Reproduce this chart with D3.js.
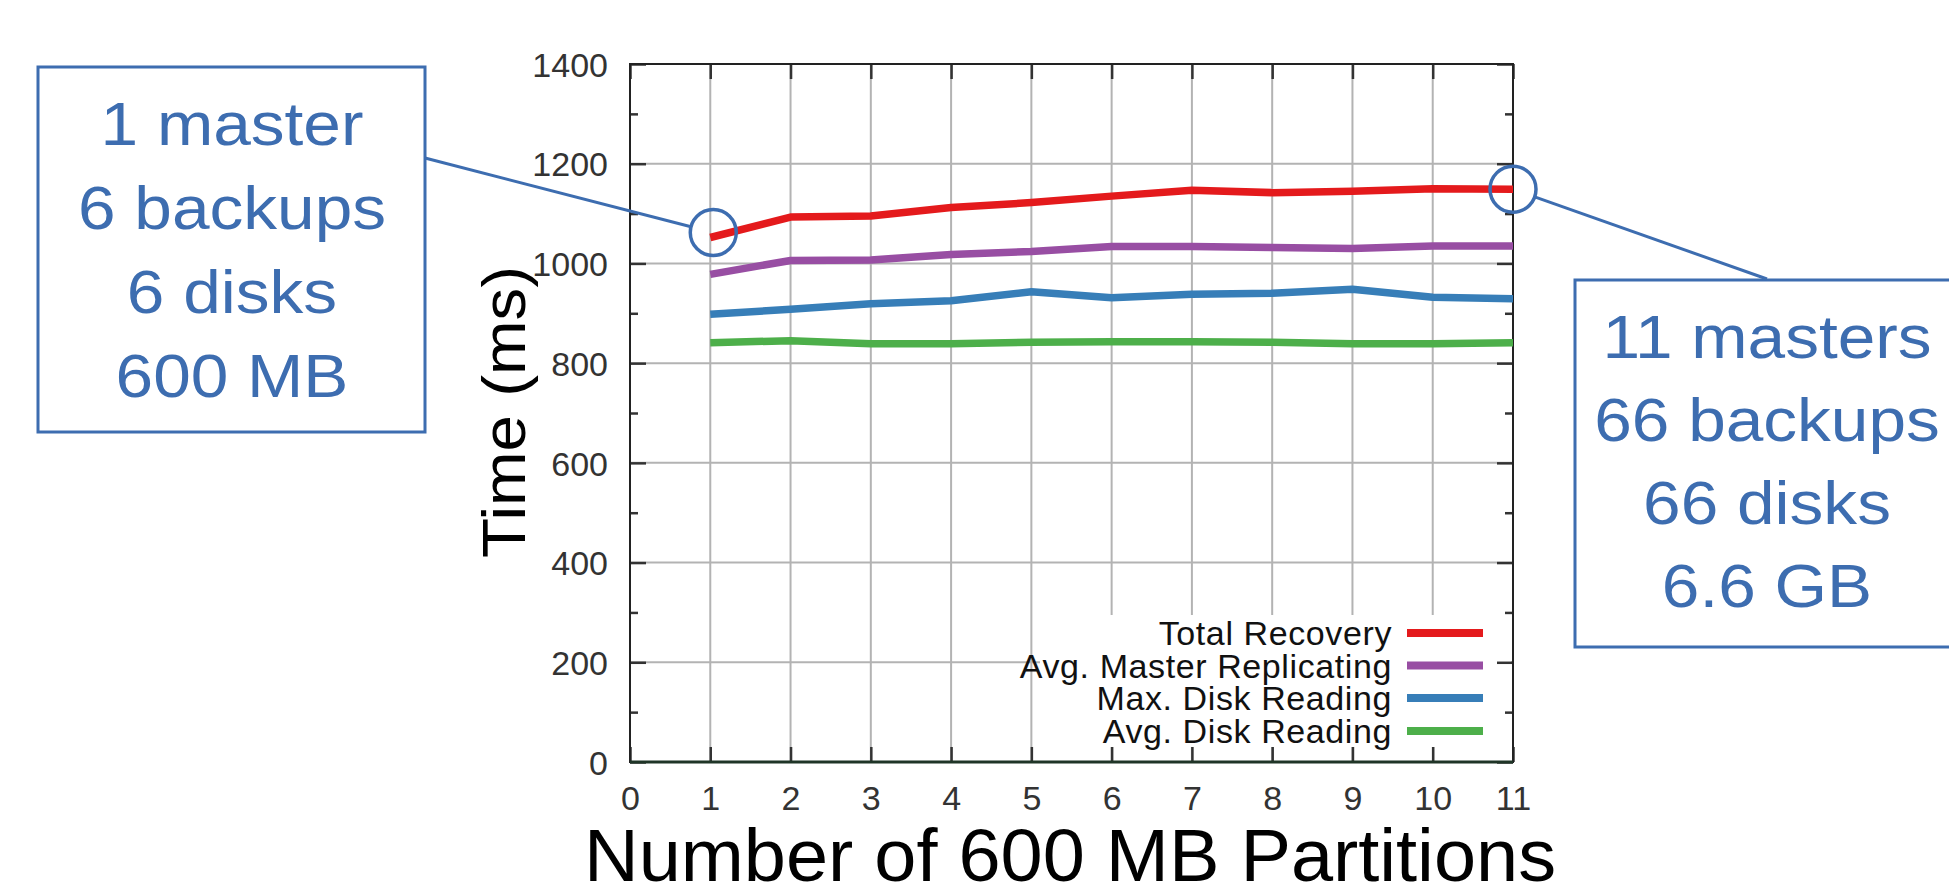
<!DOCTYPE html>
<html>
<head>
<meta charset="utf-8">
<script src="https://cdn.jsdelivr.net/npm/d3@7"></script>
<style>
  html, body { margin: 0; padding: 0; background: #fff; }
  svg { display: block; font-family: "Liberation Sans", Arial, sans-serif; }
</style>
</head>
<body>
<svg id="chart" width="1949" height="891"></svg>
<script>
// ---- data ----
const partitions = [1, 2, 3, 4, 5, 6, 7, 8, 9, 10, 11];
const totalRecovery        = [1052, 1093, 1095, 1112, 1122, 1135, 1147, 1142, 1145, 1150, 1149];
const avgMasterReplicating = [978, 1006, 1007, 1018, 1024, 1034, 1034, 1032, 1030, 1035, 1035];
const maxDiskReading       = [898, 908, 919, 925, 943, 931, 938, 940, 948, 932, 929];
const avgDiskReading       = [841, 845, 839, 839, 842, 843, 843, 842, 839, 839, 841];
const seriesNames  = ["Total Recovery", "Avg. Master Replicating", "Max. Disk Reading", "Avg. Disk Reading"];
const seriesColors = ["#e41a1c", "#984ea3", "#377eb8", "#4daf4a"];
const xTicks = [0, 1, 2, 3, 4, 5, 6, 7, 8, 9, 10, 11];
const yTicks = [0, 200, 400, 600, 800, 1000, 1200, 1400];
const yMinorTicks = [100, 300, 500, 700, 900, 1100, 1300];
const xTitle = "Number of 600 MB Partitions";
const yTitle = "Time (ms)";
const leftNote = ["1 master", "6 backups", "6 disks", "600 MB"];
const rightNote = ["11 masters", "66 backups", "66 disks", "6.6 GB"];

const seriesValues = [totalRecovery, avgMasterReplicating, maxDiskReading, avgDiskReading];

// ---- layout ----
const L = 630, R = 1513, T = 64, B = 762;
const svg = d3.select("#chart");
const x = d3.scaleLinear().domain([0, 11]).range([L, R]);
const y = d3.scaleLinear().domain([0, 1400]).range([B, T]);

const gridColor = "#b3b3b3";
const axisColor = "#222";
const noteColor = "#3d6db0";

// grid
const grid = svg.append("g");
grid.selectAll("line.vx").data(xTicks.filter(d => d > 0 && d < 11)).join("line")
  .attr("x1", d => x(d)).attr("x2", d => x(d)).attr("y1", T).attr("y2", B)
  .attr("stroke", gridColor).attr("stroke-width", 2);
grid.selectAll("line.hy").data(yTicks.filter(d => d > 0 && d < 1400)).join("line")
  .attr("x1", L).attr("x2", R).attr("y1", d => y(d)).attr("y2", d => y(d))
  .attr("stroke", gridColor).attr("stroke-width", 2);

// opaque legend area
svg.append("rect").attr("x", 1040).attr("y", 615).attr("width", R - 1040 - 2).attr("height", 132)
  .attr("fill", "#fff");

// axes with inward ticks (left, right, top, bottom)
const axL = d3.axisLeft(y).tickValues(yTicks).tickSize(-16).tickPadding(22).tickFormat(d3.format("d"));
const gL = svg.append("g").attr("transform", `translate(${L},0)`).call(axL);
const axR = d3.axisRight(y).tickValues(yTicks).tickSize(-16).tickFormat("");
const gR = svg.append("g").attr("transform", `translate(${R},0)`).call(axR);
const axLm = d3.axisLeft(y).tickValues(yMinorTicks).tickSize(-8).tickFormat("");
const gLm = svg.append("g").attr("transform", `translate(${L},0)`).call(axLm);
const axRm = d3.axisRight(y).tickValues(yMinorTicks).tickSize(-8).tickFormat("");
const gRm = svg.append("g").attr("transform", `translate(${R},0)`).call(axRm);
const axB = d3.axisBottom(x).tickValues(xTicks).tickSize(-15).tickPadding(24).tickFormat(d3.format("d"));
const gB = svg.append("g").attr("transform", `translate(0,${B})`).call(axB);
const axT = d3.axisTop(x).tickValues(xTicks).tickSize(-15).tickFormat("");
const gT = svg.append("g").attr("transform", `translate(0,${T})`).call(axT);

[gL, gR, gLm, gRm, gB, gT].forEach(g => {
  g.select(".domain").remove();
  g.selectAll(".tick line").attr("stroke", "#333").attr("stroke-width", 2.5);
  g.selectAll("text").attr("fill", "#333").style("font-size", "34px")
    .style("font-family", "'Liberation Sans', Arial, sans-serif");
});
gL.selectAll("text").attr("dy", "0.36em");

// frame
svg.append("rect").attr("x", L).attr("y", T).attr("width", R - L).attr("height", B - T)
  .attr("fill", "none").attr("stroke", axisColor).attr("stroke-width", 2);
svg.append("line").attr("x1", L).attr("x2", R).attr("y1", B).attr("y2", B)
  .attr("stroke", "#1f3527").attr("stroke-width", 3);

// legend
const legY = [633, 665.5, 698, 731];
const leg = svg.append("g");
seriesNames.forEach((name, i) => {
  leg.append("text").attr("x", 1392).attr("y", legY[i]).attr("dy", "0.36em")
    .attr("text-anchor", "end").attr("fill", "#111").style("font-size", "34px")
    .style("letter-spacing", "0.6px").text(name);
  leg.append("line").attr("x1", 1407).attr("x2", 1483).attr("y1", legY[i]).attr("y2", legY[i])
    .attr("stroke", seriesColors[i]).attr("stroke-width", 8);
});

// series lines
const line = d3.line().x((d, i) => x(partitions[i])).y(d => y(d));
svg.append("g").selectAll("path").data(seriesValues).join("path")
  .attr("d", d => line(d)).attr("fill", "none")
  .attr("stroke", (d, i) => seriesColors[i]).attr("stroke-width", 7.5)
  .attr("stroke-linejoin", "round");

// axis titles
svg.append("text").attr("x", 1070).attr("y", 881).attr("text-anchor", "middle")
  .attr("fill", "#000").style("font-size", "74px")
  .attr("textLength", 972).attr("lengthAdjust", "spacingAndGlyphs").text(xTitle);
svg.append("text").attr("transform", "translate(525,412) rotate(-90)").attr("text-anchor", "middle")
  .attr("fill", "#000").style("font-size", "62px")
  .attr("textLength", 292).attr("lengthAdjust", "spacingAndGlyphs").text(yTitle);

// annotations
const ann = svg.append("g");
const r = 23;
function circleAndLeader(px, py, tx, ty) {
  ann.append("circle").attr("cx", px).attr("cy", py).attr("r", r)
    .attr("fill", "none").attr("stroke", noteColor).attr("stroke-width", 3.5);
  const ang = Math.atan2(ty - py, tx - px);
  ann.append("line").attr("x1", px + r * Math.cos(ang)).attr("y1", py + r * Math.sin(ang))
    .attr("x2", tx).attr("y2", ty).attr("stroke", noteColor).attr("stroke-width", 3);
}
function noteText(lines, cx, y0, step) {
  const g = ann.append("g").attr("transform", `translate(${cx},0) scale(1.09,1)`);
  lines.forEach((t, i) => g.append("text").attr("x", 0).attr("y", y0 + i * step)
    .attr("text-anchor", "middle").attr("fill", noteColor).style("font-size", "62px").text(t));
}
// left
ann.append("rect").attr("x", 38).attr("y", 67).attr("width", 387).attr("height", 365)
  .attr("fill", "#fff").attr("stroke", noteColor).attr("stroke-width", 3);
noteText(leftNote, 232, 145, 84);
circleAndLeader(x(partitions[0]) + 3, y(totalRecovery[0]) - 5, 425, 158);
// right
ann.append("rect").attr("x", 1575).attr("y", 280).attr("width", 400).attr("height", 367)
  .attr("fill", "#fff").attr("stroke", noteColor).attr("stroke-width", 3);
noteText(rightNote, 1767, 358, 83);
circleAndLeader(x(partitions[10]), y(totalRecovery[10]), 1767, 279);
</script>
</body>
</html>
